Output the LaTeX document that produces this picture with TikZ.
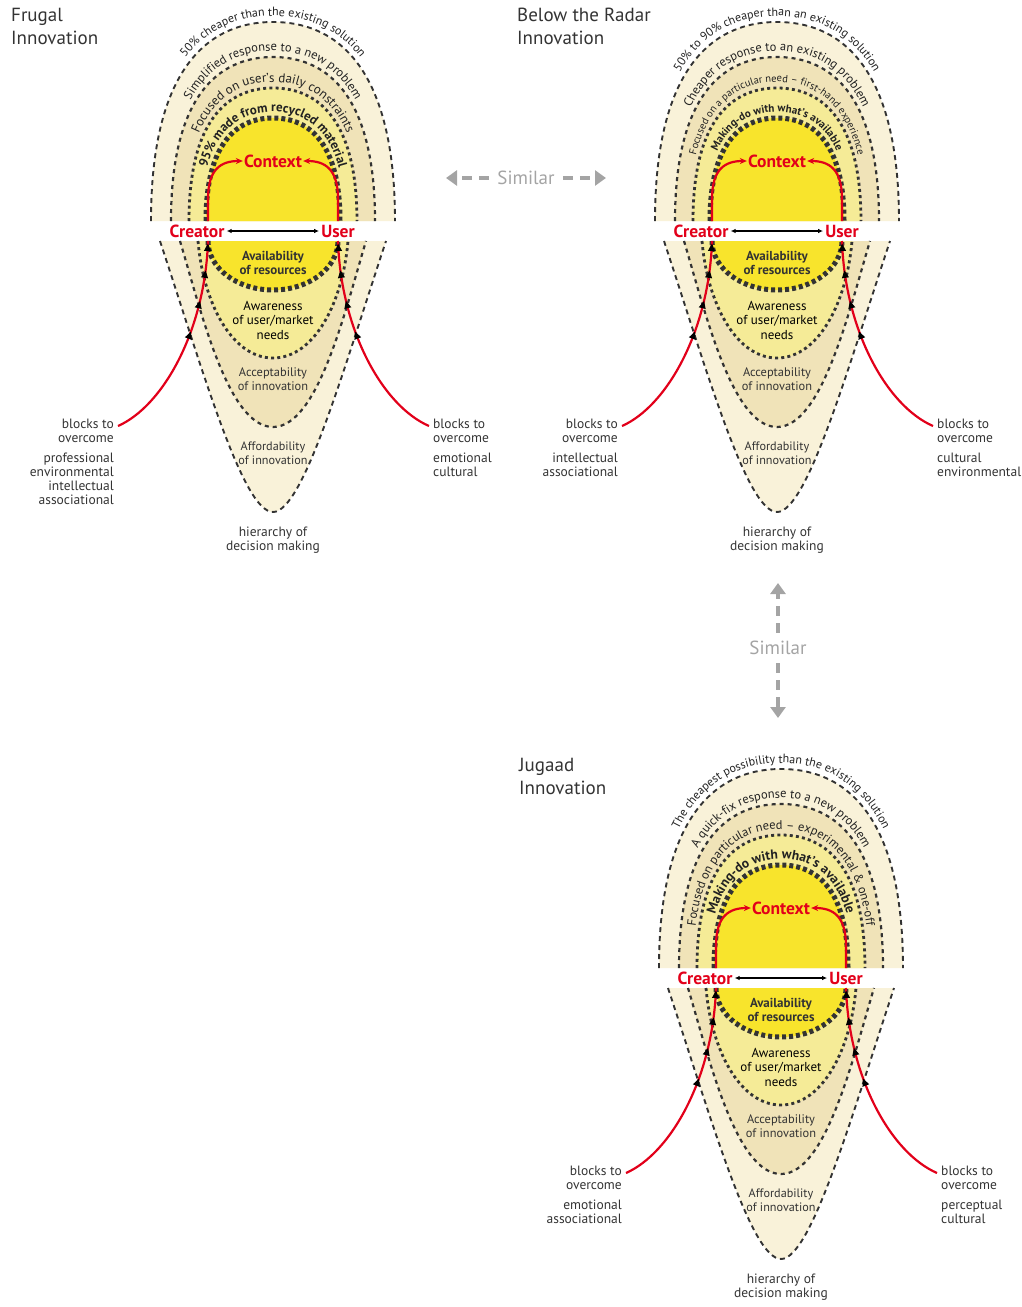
\documentclass[tikz,border=0pt]{standalone}
\usepackage{fontspec}
\setmainfont{PT Sans}
\usetikzlibrary{arrows.meta, decorations.text, decorations.markings, calc}

\definecolor{core}{HTML}{F8E42C}
\definecolor{ringA}{HTML}{F5EB97}
\definecolor{ringB}{HTML}{F0E3B8}
\definecolor{ringC}{HTML}{F9F2D9}
\definecolor{redline}{HTML}{E2001A}
\definecolor{ink}{HTML}{333333}
\definecolor{arcink}{HTML}{222222}
\definecolor{simgray}{HTML}{A4A4A4}

% upper arch: half width #1, height #2, standing on y=0
\newcommand{\arch}[2]{(-#1,0) .. controls (-#1,{0.75*#2}) and ({-0.55*#1},#2) .. (0,#2) .. controls ({0.55*#1},#2) and (#1,{0.75*#2}) .. (#1,0)}
% lower bowl: half width #1, hanging from y=-20
\newcommand{\bowl}[5]{(-#1,-20) .. controls (-#2,#3) and (-#4,#5) .. (0,#5) .. controls (#4,#5) and (#2,#3) .. (#1,-20)}
\newcommand{\crosstip}{\fill[black] (-4.5,0) -- (3,3.6) -- (3,-3.6) -- cycle;}

% one innovation diagram: #1 name prefix, #2 left blocks, #3 right blocks
\newcommand{\innovation}[3]{%
  \fill[ringC] \arch{122}{199} -- cycle;
  \fill[ringB] \arch{102}{164} -- cycle;
  \fill[ringA] \arch{84}{133} -- cycle;
  \fill[core] \arch{67}{103} -- cycle;
  \fill[ringC] \bowl{113}{70}{-150}{30}{-291} -- cycle;
  \fill[ringB] \bowl{93}{72}{-90}{45}{-206} -- cycle;
  \fill[ringA] \bowl{75}{70}{-80}{42}{-137} -- cycle;
  \fill[core] \bowl{65}{65}{-47}{36}{-69} -- cycle;
  \draw[ringline1] \arch{122}{199};
  \draw[ringline2] \arch{102}{164};
  \draw[ringline3] \arch{84}{133};
  \draw[ringline4] \arch{67}{103};
  \draw[ringline1] \bowl{113}{70}{-150}{30}{-291};
  \draw[ringline2] \bowl{93}{72}{-90}{45}{-206};
  \draw[ringline3] \bowl{75}{70}{-80}{42}{-137};
  \draw[ringline4] \bowl{65}{65}{-47}{36}{-69};
  \node[actor] (#1creator) at (-76,-10) {Creator};
  \node[actor] (#1user) at (65,-10) {User};
  \draw[link] (#1creator) -- (#1user);
  \node[ctx] (#1context) at (0,60) {Context};
  \node[level, font=\fontsize{13}{14.5}\selectfont\bfseries] (#1avail) at (0,-42) {Availability\\of resources};
  \node[level, text=black] (#1aware) at (0,-99) {Awareness\\of user/market\\needs};
  \node[level, font=\fontsize{12.4}{14.5}\selectfont] (#1accept) at (0,-158) {Acceptability\\of innovation};
  \node[level, font=\fontsize{12.2}{14.5}\selectfont] (#1afford) at (0,-232) {Affordability\\of innovation};
  \node[blocks, align=center] (#1hier) at (0,-319) {hierarchy of\\decision making};
  \node[blocks, anchor=north east, align=right] (#1blkL) at (-159,-198) {blocks to\\overcome\\[6pt]#2};
  \node[blocks, anchor=north west, align=left] (#1blkR) at (160,-198) {blocks to\\overcome\\[6pt]#3};
  \coordinate (#1footL) at (-65,-20);
  \coordinate (#1footR) at (65,-20);
  \coordinate (#1riseL) at (-65,0);
  \coordinate (#1riseR) at (65,0);
  \draw[redpath, crossings] (#1footL) .. controls (-68,-110) and (-110,-185) .. ($(#1blkL.north east)+(4,-7)$);
  \draw[redpath, crossings] (#1footR) .. controls (68,-110) and (110,-185) .. ($(#1blkR.north west)+(-4,-7)$);
  \draw[redpath, -{Stealth[length=7pt,width=6pt]}] (#1riseL) -- ++(0,22) .. controls (-65,52) and (-52,60) .. (#1context.west);
  \draw[redpath, -{Stealth[length=7pt,width=6pt]}] (#1riseR) -- ++(0,22) .. controls (65,52) and (52,60) .. (#1context.east);
}

\begin{document}
\begin{tikzpicture}[
    x=1pt, y=1pt,
    ringline1/.style={ink, line width=1.9pt, dash pattern=on 5pt off 4pt},
    ringline2/.style={ink, line width=2.2pt, dash pattern=on 4pt off 4pt},
    ringline3/.style={ink, line width=2.8pt, dash pattern=on 3pt off 3.2pt},
    ringline4/.style={ink, line width=5pt, dash pattern=on 4pt off 3pt},
    redpath/.style={redline, line width=2.2pt},
    crossings/.style={postaction={decorate, decoration={markings,
        mark=at position 7pt with {\crosstip},
        mark=at position 34pt with {\crosstip},
        mark=at position 65pt with {\crosstip},
        mark=at position 97pt with {\crosstip}}}},
    actor/.style={text=redline, font=\fontsize{17.5}{18}\selectfont\bfseries, inner sep=2pt},
    ctx/.style={text=redline, font=\fontsize{17.5}{18}\selectfont\bfseries, inner sep=1pt},
    link/.style={black, line width=1.4pt, {Latex[length=5pt,width=4.5pt]}-{Latex[length=5pt,width=4.5pt]}},
    level/.style={align=center, text=ink, font=\fontsize{13}{14.5}\selectfont, inner sep=0pt},
    blocks/.style={text=ink, font=\fontsize{13.5}{14}\selectfont, inner sep=0pt},
    title/.style={anchor=north west, align=left, text=ink, font=\fontsize{19}{23}\selectfont, inner sep=0pt},
    arctext/.style 2 args={decorate, decoration={text along path, text align=center, text color=arcink, text={|#1|#2}}},
    similar/.style={text=simgray, font=\fontsize{19}{20}\selectfont, inner sep=8pt},
    simarrow/.style={simgray, line width=4.5pt, dash pattern=on 10pt off 7pt, -{Triangle[length=11pt,width=15pt]}}
]
\useasboundingbox (0,0) rectangle (1022,-1307);

\node[title] (frugaltitle) at (11,-8) {Frugal\\Innovation};
\node[title] (radartitle) at (517,-8) {Below the Radar\\Innovation};
\node[title] (jugaadtitle) at (519,-758) {Jugaad\\Innovation};

% Frugal
\begin{scope}[shift={(273,-221)}]
  \innovation{f}{professional\\environmental\\intellectual\\associational}{emotional\\cultural}
  \path[arctext={\fontsize{12}{14}\selectfont}{50{\%} cheaper than the existing solution}] \arch{127}{205};
  \path[arctext={\fontsize{12.5}{14}\selectfont}{Simplified response to a new problem}] \arch{106}{170};
  \path[arctext={\fontsize{13}{14}\selectfont}{Focused on user's daily constraints}] \arch{88}{139};
  \path[arctext={\fontsize{13}{14}\selectfont\bfseries}{95{\%} made from recycled material}] \arch{72}{109};
\end{scope}

% Below the Radar
\begin{scope}[shift={(777,-221)}]
  \innovation{r}{intellectual\\associational}{cultural\\environmental}
  \path[arctext={\fontsize{12}{14}\selectfont}{50{\%} to 90{\%} cheaper than an existing solution}] \arch{127}{205};
  \path[arctext={\fontsize{12.5}{14}\selectfont}{Cheaper response to an existing problem}] \arch{106}{170};
  \path[arctext={\fontsize{10.5}{12}\selectfont}{Focused on a particular need {\textendash} first-hand experience}] \arch{88}{139};
  \path[arctext={\fontsize{11}{12}\selectfont\bfseries}{Making-do with what's available}] \arch{72}{109};
\end{scope}

% Jugaad
\begin{scope}[shift={(781,-968)}]
  \innovation{j}{emotional\\associational}{perceptual\\cultural}
  \path[arctext={\fontsize{12}{14}\selectfont}{The cheapest possibility than the existing solution}] \arch{127}{205};
  \path[arctext={\fontsize{12.5}{14}\selectfont}{A quick-fix response to a new problem}] \arch{106}{170};
  \path[arctext={\fontsize{12.5}{14}\selectfont}{Focused on particular need {\textendash} experimental {\&} one-off}] \arch{88}{139};
  \path[arctext={\fontsize{13.5}{14}\selectfont\bfseries}{Making-do with what's available}] \arch{72}{109};
\end{scope}

% similarity links
\node[similar] (simH) at (526,-178) {Similar};
\coordinate (simHl) at (446,-178);
\coordinate (simHr) at (606,-178);
\draw[simarrow] (simH) -- (simHl);
\draw[simarrow] (simH) -- (simHr);

\node[similar] (simV) at (778,-648) {Similar};
\coordinate (simVt) at (778,-583);
\coordinate (simVb) at (778,-718);
\draw[simarrow] (simV) -- (simVt);
\draw[simarrow] (simV) -- (simVb);
\end{tikzpicture}
\end{document}
